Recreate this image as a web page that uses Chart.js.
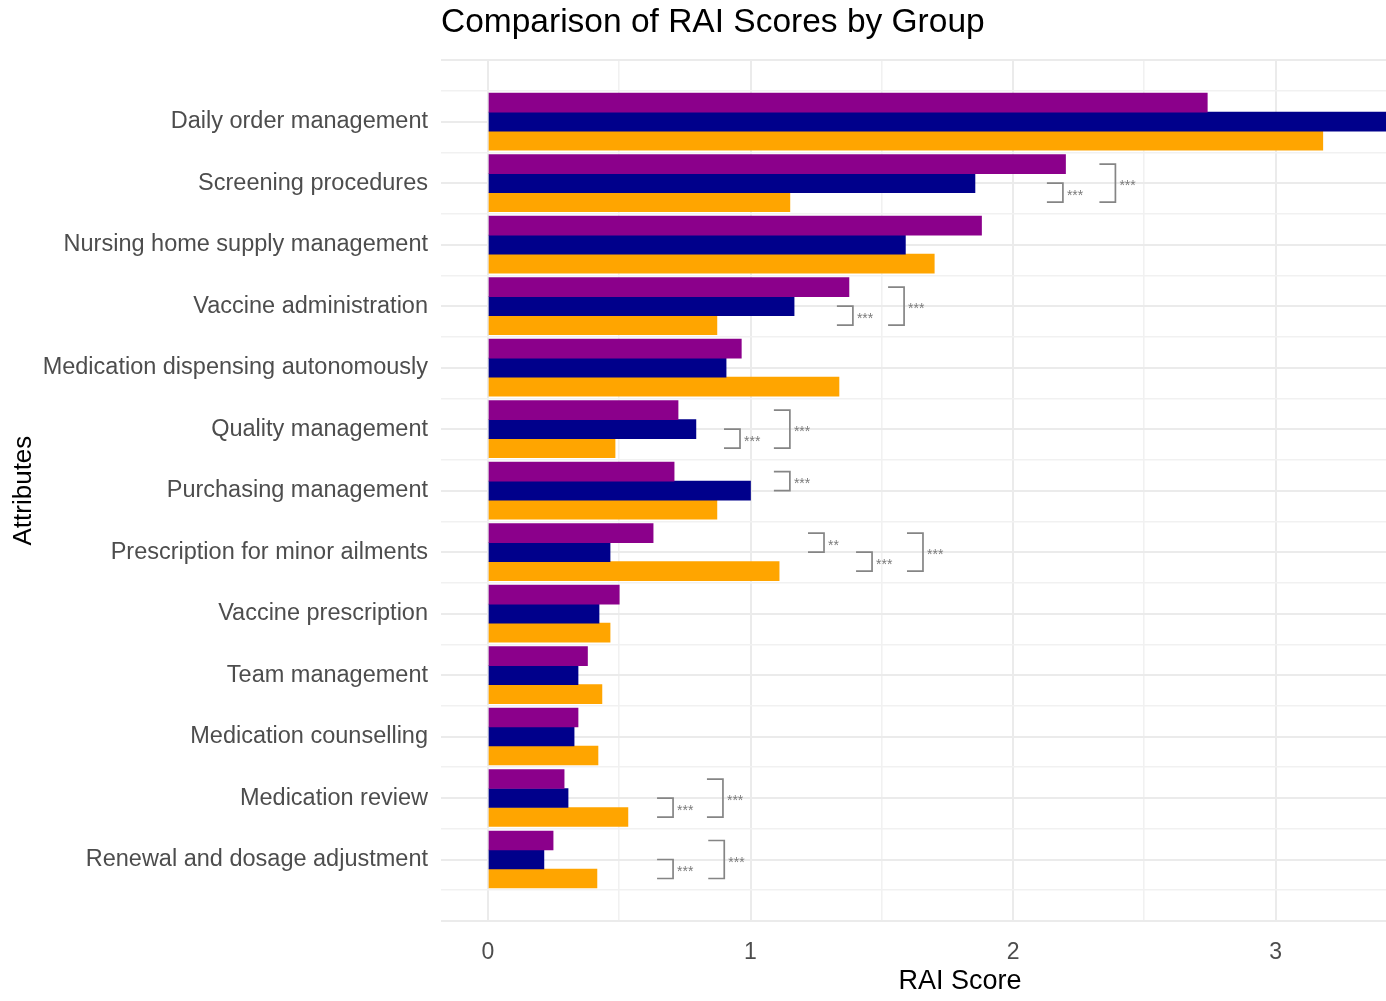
<!DOCTYPE html>
<html>
<head>
<meta charset="utf-8">
<script src="https://cdn.jsdelivr.net/npm/chart.js@4.4.1/dist/chart.umd.min.js"></script>
<style>
  html, body { margin: 0; padding: 0; background: #fff; overflow: hidden; }
  #wrap { width: 1480px; height: 1001px; }
</style>
</head>
<body>
<div id="wrap"><canvas id="chart"></canvas></div>
<script>
const categories = [
  "Daily order management",
  "Screening procedures",
  "Nursing home supply management",
  "Vaccine administration",
  "Medication dispensing autonomously",
  "Quality management",
  "Purchasing management",
  "Prescription for minor ailments",
  "Vaccine prescription",
  "Team management",
  "Medication counselling",
  "Medication review",
  "Renewal and dosage adjustment"
];

const groupNames = ["Group 1", "Group 2", "Group 3"];
const groupColors = ["#8B008B", "#00008B", "#FFA500"];

const group1Scores = [2.74, 2.20, 1.88, 1.375, 0.965, 0.724, 0.709, 0.629, 0.50, 0.379, 0.343, 0.29, 0.248];
const group2Scores = [3.55, 1.855, 1.59, 1.166, 0.907, 0.792, 1.0, 0.465, 0.423, 0.343, 0.328, 0.305, 0.213];
const group3Scores = [3.18, 1.15, 1.70, 0.872, 1.337, 0.484, 0.872, 1.109, 0.465, 0.434, 0.419, 0.533, 0.415];

const xTicks = [0, 1, 2, 3];

// significance brackets: category index, from group, to group, x position, label
const bracketCat   = [1, 1, 3, 3, 5, 5, 6, 7, 7, 7, 11, 11, 12, 12];
const bracketFrom  = [1, 0, 1, 0, 1, 0, 0, 0, 1, 0, 1, 0, 1, 0];
const bracketTo    = [2, 2, 2, 2, 2, 2, 1, 1, 2, 2, 2, 2, 2, 2];
const bracketX     = [2.19, 2.39, 1.39, 1.585, 0.96, 1.15, 1.15, 1.28, 1.463, 1.657, 0.705, 0.895, 0.705, 0.9];
const bracketLabel = ["***", "***", "***", "***", "***", "***", "***", "**", "***", "***", "***", "***", "***", "***"];

const allScores = [group1Scores, group2Scores, group3Scores];

const bracketPlugin = {
  id: "brackets",
  afterDatasetsDraw(chart) {
    const ctx = chart.ctx;
    const xs = chart.scales.x;
    ctx.save();
    ctx.strokeStyle = "#858585";
    ctx.lineWidth = 1.7;
    ctx.fillStyle = "#7a7a7a";
    ctx.font = "14px 'Liberation Sans', Arial, sans-serif";
    ctx.textBaseline = "alphabetic";
    ctx.textAlign = "left";
    for (let k = 0; k < bracketCat.length; k++) {
      const c = bracketCat[k];
      const y1 = chart.getDatasetMeta(bracketFrom[k]).data[c].y;
      const y2 = chart.getDatasetMeta(bracketTo[k]).data[c].y;
      const xp = xs.getPixelForValue(bracketX[k]);
      const arm = 16;
      ctx.beginPath();
      ctx.moveTo(xp - arm, y1);
      ctx.lineTo(xp, y1);
      ctx.lineTo(xp, y2);
      ctx.lineTo(xp - arm, y2);
      ctx.stroke();
      ctx.fillText(bracketLabel[k], xp + 4, (y1 + y2) / 2 + 7);
    }
    ctx.restore();
  }
};

const isMajor = (ctx) => ctx.tick && Number.isInteger(ctx.tick.value);
const gridColor = (ctx) => isMajor(ctx) ? "#ebebeb" : "#f1f1f1";
const gridWidth = (ctx) => isMajor(ctx) ? 2 : 1.6;

new Chart(document.getElementById("chart"), {
  type: "bar",
  data: {
    datasets: allScores.map((arr, g) => ({
      label: groupNames[g],
      data: arr.map((v, i) => ({ x: v, y: i })),
      backgroundColor: groupColors[g],
      borderWidth: 0,
      barThickness: 19
    }))
  },
  options: {
    indexAxis: "y",
    responsive: true,
    maintainAspectRatio: false,
    animation: false,
    devicePixelRatio: 1,
    layout: { padding: { left: 0, right: 1, top: 0, bottom: 0 } },
    plugins: {
      legend: { display: false },
      tooltip: { enabled: false },
      title: {
        display: true,
        text: "Comparison of RAI Scores by Group",
        align: "start",
        fullSize: false,
        color: "#000",
        font: { family: "'Liberation Sans', Arial, sans-serif", size: 33.5, weight: "normal" },
        padding: { top: 3, bottom: 17 }
      }
    },
    scales: {
      x: {
        type: "linear",
        min: -0.179,
        max: 3.775,
        border: { display: false },
        grid: { color: gridColor, lineWidth: gridWidth, drawTicks: false },
        ticks: {
          stepSize: 0.5,
          includeBounds: false,
          autoSkip: false,
          maxRotation: 0,
          padding: 18,
          color: "#4d4d4d",
          font: { family: "'Liberation Sans', Arial, sans-serif", size: 23 },
          callback: (v) => xTicks.includes(v) ? String(v) : ""
        },
        title: {
          display: true,
          text: "RAI Score",
          color: "#000",
          font: { family: "'Liberation Sans', Arial, sans-serif", size: 27 },
          padding: { top: 0, bottom: 3 }
        },
        afterFit: (s) => { s.height = 80; }
      },
      y: {
        type: "linear",
        min: -1,
        max: categories.length,
        reverse: true,
        offset: false,
        border: { display: false },
        grid: { color: gridColor, lineWidth: gridWidth, drawTicks: false, offset: false },
        ticks: {
          stepSize: 0.5,
          autoSkip: false,
          padding: 13,
          color: "#4d4d4d",
          font: { family: "'Liberation Sans', Arial, sans-serif", size: 23.5 },
          callback: (v) => (Number.isInteger(v) && v >= 0 && v < categories.length) ? categories[v] : ""
        },
        title: {
          display: true,
          text: "Attributes",
          color: "#000",
          font: { family: "'Liberation Sans', Arial, sans-serif", size: 26 },
          padding: { top: 8, bottom: 0 }
        },
        afterFit: (s) => { s.width = 441; }
      }
    }
  },
  plugins: [bracketPlugin]
});
</script>
</body>
</html>
